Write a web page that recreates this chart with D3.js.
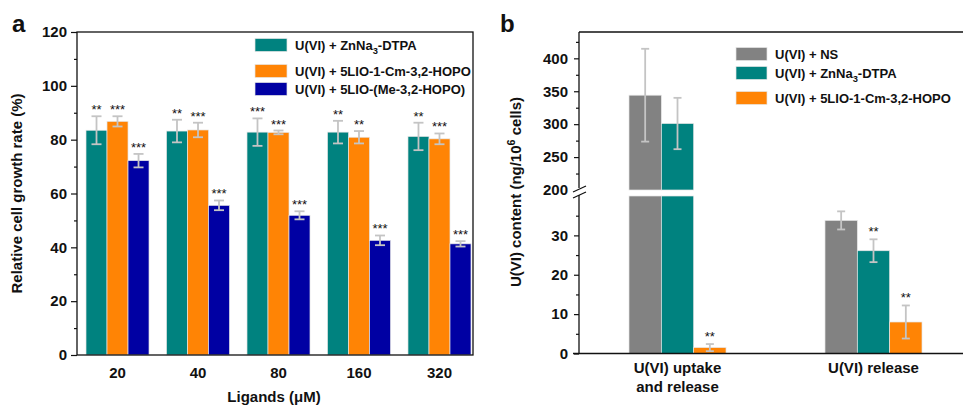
<!DOCTYPE html>
<html>
<head>
    <meta charset="utf-8">
    <title>Cell growth and U(VI) content</title>
    <script src="https://d3js.org/d3.v7.min.js"></script>
    <style>
        body { margin: 0; background: #fff; }
        text { font-family: "Liberation Sans", Arial, sans-serif; font-weight: bold; fill: #111; }
    </style>
</head>
<body>
<div id="chart"></div>
<script type="text/javascript">
    // ---- panel a data ----
    let ligands = ["20", "40", "80", "160", "320"];
    let seriesA = ["U(VI) + ZnNa_3-DTPA", "U(VI) + 5LIO-1-Cm-3,2-HOPO", "U(VI) + 5LIO-(Me-3,2-HOPO)"];
    let znDtpa = [83.5, 83.2, 82.8, 82.8, 81.2];
    let znDtpaErr = [5.2, 4.2, 5.1, 4.2, 5.1];
    let cmHopo = [86.8, 83.6, 82.7, 80.9, 80.3];
    let cmHopoErr = [1.9, 2.7, 0.7, 2.3, 2.0];
    let meHopo = [72.2, 55.6, 51.9, 42.6, 41.3];
    let meHopoErr = [2.5, 1.8, 1.5, 1.8, 1.0];
    let starsZn = ["**", "**", "***", "**", "**"];
    let starsCm = ["***", "***", "***", "**", "***"];
    let starsMe = ["***", "***", "***", "***", "***"];
    let ticksA = [0, 20, 40, 60, 80, 100, 120];

    // ---- panel b data ----
    let groupsB = [["U(VI) uptake", "and release"], ["U(VI) release"]];
    let seriesB = ["U(VI) + NS", "U(VI) + ZnNa_3-DTPA", "U(VI) + 5LIO-1-Cm-3,2-HOPO"];
    let nsB = [344, 33.8];
    let nsBErr = [70.5, 2.3];
    let dtpaB = [301, 26.1];
    let dtpaBErr = [39, 2.9];
    let cmB = [1.5, 8.0];
    let cmBErr = [0.9, 4.2];
    let starsNs = ["", ""];
    let starsDtpa = ["", "**"];
    let starsCmB = ["**", "**"];
    let ticksBLow = [0, 10, 20, 30];
    let ticksBHigh = [200, 250, 300, 350, 400];

    let teal = "#00827f", orange = "#ff8405", blue = "#0000a3", grey = "#828282";
    let errColor = "#c4c4c4";

    let svg = d3.select("#chart").append("svg")
        .attr("width", 963).attr("height", 405);

    // writes "a_3b" as a with subscript 3, "a^6b" as superscript
    function richText(sel, str) {
        let parts = str.split(/([_^]\d)/);
        let back = 0;
        parts.forEach(function(p) {
            if (p[0] === "_" || p[0] === "^") {
                let shift = p[0] === "_" ? 4 : -6;
                sel.append("tspan").attr("dy", shift).style("font-size", "0.72em").text(p[1]);
                back = -shift;
            } else if (p.length) {
                sel.append("tspan").attr("dy", back).text(p);
                back = 0;
            }
        });
    }

    function drawErr(g, x, yTop, yBot, cap) {
        g.append("line").attr("x1", x).attr("x2", x).attr("y1", yTop).attr("y2", yBot)
            .attr("stroke", errColor).attr("stroke-width", 1.8);
        [yTop, yBot].forEach(function(y) {
            g.append("line").attr("x1", x - cap).attr("x2", x + cap).attr("y1", y).attr("y2", y)
                .attr("stroke", errColor).attr("stroke-width", 1.8);
        });
    }

    // =================== PANEL a ===================
    let gA = svg.append("g");
    let leftA = 77, rightA = 473, topA = 32, bottomA = 355;

    let xA = d3.scaleBand().domain(ligands).range([86, 471]).paddingInner(0.217).paddingOuter(0);
    let xSubA = d3.scaleBand().domain([0, 1, 2]).range([0, xA.bandwidth()]);
    let yA = d3.scaleLinear().domain([0, 120]).range([bottomA, topA]);

    let dataA = [
        {vals: znDtpa, errs: znDtpaErr, stars: starsZn, color: teal},
        {vals: cmHopo, errs: cmHopoErr, stars: starsCm, color: orange},
        {vals: meHopo, errs: meHopoErr, stars: starsMe, color: blue}
    ];

    dataA.forEach(function(s, si) {
        ligands.forEach(function(l, i) {
            let x0 = xA(l) + xSubA(si);
            let w = xSubA.bandwidth();
            gA.append("rect")
                .attr("x", x0).attr("y", yA(s.vals[i]))
                .attr("width", w).attr("height", yA(0) - yA(s.vals[i]))
                .attr("fill", s.color).attr("stroke", "#e6e6e6").attr("stroke-width", 0.7);
            let cx = x0 + w / 2;
            drawErr(gA, cx, yA(s.vals[i] + s.errs[i]), yA(s.vals[i] - s.errs[i]), 5);
            gA.append("text")
                .attr("x", cx).attr("y", yA(s.vals[i] + s.errs[i]) - 2)
                .attr("text-anchor", "middle").style("font-size", "13px").style("font-weight", "normal")
                .text(s.stars[i]);
        });
    });

    // frame
    gA.append("rect").attr("x", leftA).attr("y", topA).attr("width", rightA - leftA).attr("height", bottomA - topA)
        .attr("fill", "none").attr("stroke", "#111").attr("stroke-width", 1.3);

    let yAxisA = d3.axisLeft(yA).tickValues(ticksA).tickSize(6).tickPadding(4);
    let yMinorA = d3.axisLeft(yA).tickValues(d3.range(10, 120, 20)).tickSize(3).tickFormat("");
    gA.append("g").attr("transform", "translate(" + leftA + ",0)").call(yAxisA)
        .call(function(g) { g.select(".domain").remove(); })
        .selectAll("text").style("font-size", "15px").attr("fill", "#111");
    gA.append("g").attr("transform", "translate(" + leftA + ",0)").call(yMinorA)
        .call(function(g) { g.select(".domain").remove(); });

    gA.selectAll(".tick line").attr("stroke", "#111").attr("stroke-width", 1.2);

    ligands.forEach(function(l) {
        gA.append("text").attr("x", xA(l) + xA.bandwidth() / 2).attr("y", 378)
            .attr("text-anchor", "middle").style("font-size", "15px").text(l);
    });

    gA.append("text").attr("x", 274).attr("y", 402).attr("text-anchor", "middle")
        .style("font-size", "15px").text("Ligands (\u03bcM)");

    gA.append("text").attr("transform", "translate(22," + ((topA + bottomA) / 2) + ") rotate(-90)")
        .attr("text-anchor", "middle").style("font-size", "15px").text("Relative cell growth rate (%)");

    gA.append("text").attr("x", 12).attr("y", 32).style("font-size", "24px").text("a");

    // legend a
    let legYA = [45, 71, 89];
    seriesA.forEach(function(name, i) {
        gA.append("rect").attr("x", 255).attr("y", legYA[i] - 6.5).attr("width", 32).attr("height", 13)
            .attr("fill", dataA[i].color).attr("stroke", "#e6e6e6").attr("stroke-width", 0.7);
        let t = gA.append("text").attr("x", 295).attr("y", legYA[i] + 4.5).style("font-size", "13px");
        richText(t, name);
    });

    // =================== PANEL b ===================
    let gB = svg.append("g");
    let leftB = 579, bottomB = 353.5;

    let xB = d3.scaleBand().domain([0, 1]).range([629, 922]).paddingInner(0.505).paddingOuter(0);
    let xSubB = d3.scaleBand().domain([0, 1, 2]).range([0, xB.bandwidth()]);
    let yLow = d3.scaleLinear().domain([0, 40]).range([bottomB, 196]);
    let yHigh = d3.scaleLinear().domain([200, 440]).range([190, 32]);
    function yBroken(v) { return v <= 40 ? yLow(v) : yHigh(v); }

    let dataB = [
        {vals: nsB, errs: nsBErr, stars: starsNs, color: grey},
        {vals: dtpaB, errs: dtpaBErr, stars: starsDtpa, color: teal},
        {vals: cmB, errs: cmBErr, stars: starsCmB, color: orange}
    ];

    dataB.forEach(function(s, si) {
        groupsB.forEach(function(gname, i) {
            let x0 = xB(i) + xSubB(si);
            let w = xSubB.bandwidth();
            let v = s.vals[i];
            if (v > 40) {
                gB.append("rect").attr("x", x0).attr("y", yLow(40)).attr("width", w)
                    .attr("height", yLow(0) - yLow(40))
                    .attr("fill", s.color).attr("stroke", "#e6e6e6").attr("stroke-width", 0.7);
                gB.append("rect").attr("x", x0).attr("y", yHigh(v)).attr("width", w)
                    .attr("height", yHigh(200) - yHigh(v))
                    .attr("fill", s.color).attr("stroke", "#e6e6e6").attr("stroke-width", 0.7);
            } else {
                gB.append("rect").attr("x", x0).attr("y", yLow(v)).attr("width", w)
                    .attr("height", yLow(0) - yLow(v))
                    .attr("fill", s.color).attr("stroke", "#e6e6e6").attr("stroke-width", 0.7);
            }
            let cx = x0 + w / 2;
            drawErr(gB, cx, yBroken(v + s.errs[i]), yBroken(v - s.errs[i]), 4);
            gB.append("text").attr("x", cx).attr("y", yBroken(v + s.errs[i]) - 3)
                .attr("text-anchor", "middle").style("font-size", "13px").style("font-weight", "normal")
                .text(s.stars[i]);
        });
    });

    // axes b
    gB.append("line").attr("x1", leftB).attr("x2", 963).attr("y1", 32).attr("y2", 32)
        .attr("stroke", "#111").attr("stroke-width", 1.3);
    gB.append("line").attr("x1", 573).attr("x2", 963).attr("y1", bottomB).attr("y2", bottomB)
        .attr("stroke", "#111").attr("stroke-width", 1.3);
    gB.append("line").attr("x1", leftB).attr("x2", leftB).attr("y1", 32).attr("y2", 188)
        .attr("stroke", "#111").attr("stroke-width", 1.3);
    gB.append("line").attr("x1", leftB).attr("x2", leftB).attr("y1", 195).attr("y2", bottomB)
        .attr("stroke", "#111").attr("stroke-width", 1.3);
    [189, 195].forEach(function(y) {
        gB.append("line").attr("x1", 573).attr("x2", 586).attr("y1", y + 3).attr("y2", y - 3)
            .attr("stroke", "#111").attr("stroke-width", 1.3);
    });

    let axHigh = gB.append("g").attr("transform", "translate(" + leftB + ",0)")
        .call(d3.axisLeft(yHigh).tickValues(ticksBHigh).tickSize(5).tickPadding(6));
    let axHighMinor = gB.append("g").attr("transform", "translate(" + leftB + ",0)")
        .call(d3.axisLeft(yHigh).tickValues([225, 275, 325, 375, 425]).tickSize(3).tickFormat(""));
    let axLow = gB.append("g").attr("transform", "translate(" + leftB + ",0)")
        .call(d3.axisLeft(yLow).tickValues(ticksBLow).tickSize(5).tickPadding(6));
    let axLowMinor = gB.append("g").attr("transform", "translate(" + leftB + ",0)")
        .call(d3.axisLeft(yLow).tickValues([5, 15, 25, 35]).tickSize(3).tickFormat(""));
    [axHigh, axHighMinor, axLow, axLowMinor].forEach(function(a) {
        a.select(".domain").remove();
        a.selectAll(".tick line").attr("stroke", "#111").attr("stroke-width", 1.2);
        a.selectAll("text").style("font-size", "15px").attr("fill", "#111");
    });
    axHigh.selectAll(".tick").filter(function(d) { return d === 200; }).select("line").remove();

    groupsB.forEach(function(lines, i) {
        let t = gB.append("text").attr("x", xB(i) + xB.bandwidth() / 2).attr("y", 373)
            .attr("text-anchor", "middle").style("font-size", "15px");
        lines.forEach(function(ln, j) {
            t.append("tspan").attr("x", xB(i) + xB.bandwidth() / 2).attr("dy", j === 0 ? 0 : 19).text(ln);
        });
    });

    let yl = gB.append("text").attr("transform", "translate(521,192) rotate(-90)")
        .attr("text-anchor", "middle").style("font-size", "15px");
    richText(yl, "U(VI) content (ng/10^6 cells)");

    gB.append("text").attr("x", 500).attr("y", 32).style("font-size", "24px").text("b");

    // legend b
    let legYB = [54, 73, 98];
    seriesB.forEach(function(name, i) {
        gB.append("rect").attr("x", 736).attr("y", legYB[i] - 6.5).attr("width", 31).attr("height", 13)
            .attr("fill", dataB[i].color).attr("stroke", "#e6e6e6").attr("stroke-width", 0.7);
        let t = gB.append("text").attr("x", 775).attr("y", legYB[i] + 4.5).style("font-size", "13px");
        richText(t, name);
    });
</script>
</body>
</html>
